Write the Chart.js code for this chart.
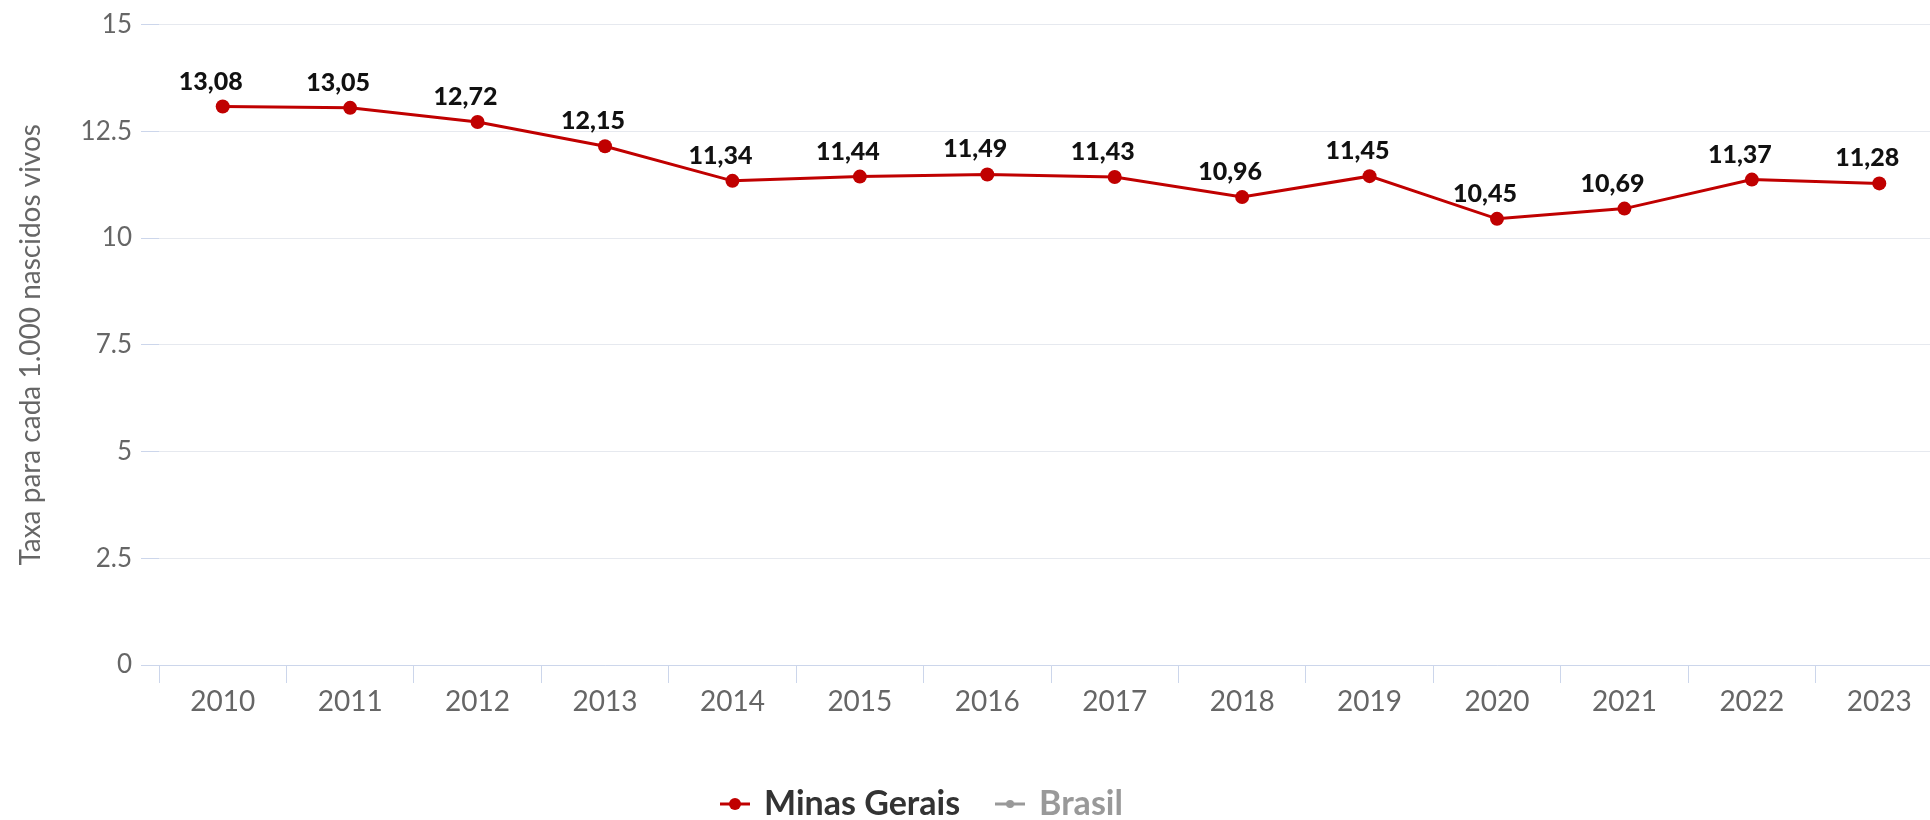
<!DOCTYPE html>
<html>
<head>
<meta charset="utf-8">
<script src="https://cdn.jsdelivr.net/npm/chart.js@4.4.1/dist/chart.umd.min.js"></script>
<style>
html,body{margin:0;padding:0;overflow:hidden;background:#fff}
#wrap{width:1950px;height:820px;position:relative}
canvas{display:block}
</style>
</head>
<body>
<div id="wrap"><canvas id="c" width="1950" height="820"></canvas></div>
<script>
// ---- data ----
const categories = ['2010','2011','2012','2013','2014','2015','2016','2017','2018','2019','2020','2021','2022','2023'];
const minasGerais = [13.08,13.05,12.72,12.15,11.34,11.44,11.49,11.43,10.96,11.45,10.45,10.69,11.37,11.28];
const brasil = []; // series hidden in the reference
const seriesNames = ['Minas Gerais','Brasil'];
const yTicks = [0,2.5,5,7.5,10,12.5,15];
const yTitle = 'Taxa para cada 1.000 nascidos vivos';

// ---- styles ----
const RED = '#c00000';
const GREY = '#999999';
const FONT = 'Lato, "Open Sans", sans-serif';

function legendSymbol(color, r) {
  const cv = document.createElement('canvas');
  cv.width = 30; cv.height = 16;
  const g = cv.getContext('2d');
  g.strokeStyle = color; g.lineWidth = 3;
  g.beginPath(); g.moveTo(0, 8); g.lineTo(30, 8); g.stroke();
  g.fillStyle = color;
  g.beginPath(); g.arc(15, 8, r, 0, Math.PI * 2); g.fill();
  return cv;
}
const symMG = legendSymbol(RED, 6);
const symBR = legendSymbol(GREY, 4);

const dataLabels = {
  id: 'dataLabels',
  afterDatasetsDraw(chart) {
    const meta = chart.getDatasetMeta(0);
    if (meta.hidden) return;
    const ctx = chart.ctx;
    ctx.save();
    ctx.font = '900 25px ' + FONT;
    ctx.fillStyle = '#111111';
    ctx.textAlign = 'center';
    ctx.textBaseline = 'alphabetic';
    meta.data.forEach((el, i) => {
      const v = chart.data.datasets[0].data[i];
      const txt = v.toFixed(2).replace('.', ',');
      ctx.fillText(txt, el.x - 12, el.y - 17);
    });
    ctx.restore();
  }
};

const legendShift = {
  id: 'legendShift',
  afterLayout(chart) {
    const lg = chart.legend;
    if (!lg) return;
    const pad = lg.options.labels.padding;
    const fs = lg.options.labels.font.size;
    const dx = 723 - (lg.left + pad);
    const dy = 804 - (lg.top + pad + fs / 2);
    lg.left += dx; lg.right += dx;
    lg.top += dy; lg.bottom += dy;
  }
};

new Chart(document.getElementById('c'), {
  type: 'line',
  data: {
    labels: categories,
    datasets: [
      {
        label: seriesNames[0],
        data: minasGerais,
        borderColor: RED,
        backgroundColor: RED,
        borderWidth: 3,
        pointRadius: 7,
        pointHoverRadius: 7,
        pointBackgroundColor: RED,
        pointBorderWidth: 0,
        tension: 0
      },
      {
        label: seriesNames[1],
        data: brasil,
        borderColor: GREY,
        backgroundColor: GREY,
        hidden: true
      }
    ]
  },
  options: {
    responsive: false,
    animation: false,
    layout: { padding: { top: 22, left: 0, right: 7, bottom: 0 } },
    plugins: {
      tooltip: { enabled: false },
      legend: {
        position: 'bottom',
        align: 'start',
        labels: {
          usePointStyle: true,
          pointStyleWidth: 24,
          padding: 38,
          font: { family: FONT, size: 34, weight: 'bold' },
          generateLabels(chart) {
            return [
              { text: seriesNames[0], pointStyle: symMG, fontColor: '#333333', fillStyle: RED, strokeStyle: RED, lineWidth: 0, hidden: false, datasetIndex: 0 },
              { text: seriesNames[1], pointStyle: symBR, fontColor: '#999999', fillStyle: GREY, strokeStyle: GREY, lineWidth: 0, hidden: false, datasetIndex: 1 }
            ];
          }
        }
      }
    },
    scales: {
      x: {
        type: 'category',
        offset: true,
        grid: {
          display: true,
          drawOnChartArea: false,
          drawTicks: true,
          tickLength: 18,
          tickColor: '#ccd6eb',
          offset: true
        },
        border: { display: true, color: '#ccd6eb', width: 1 },
        ticks: {
          autoSkip: false,
          maxRotation: 0,
          padding: 2,
          color: '#666666',
          font: { family: FONT, size: 28 }
        },
        afterFit(scale) {
          const lh = scale.chart.legend ? scale.chart.legend.height : 0;
          scale.height = 820 - 665 - lh;
        }
      },
      y: {
        min: 0,
        max: 15,
        afterBuildTicks(scale) {
          scale.ticks = yTicks.map(v => ({ value: v }));
        },
        grid: {
          color: '#e6e9ef',
          tickColor: '#ccd6eb',
          tickLength: 18,
          lineWidth: 1
        },
        border: { display: false },
        ticks: {
          padding: 9,
          color: '#666666',
          font: { family: FONT, size: 26 },
          callback: v => String(v)
        },
        title: {
          display: true,
          text: yTitle,
          color: '#666666',
          font: { family: FONT, size: 28 },
          padding: { top: 14, bottom: 0 }
        },
        afterFit(scale) { scale.width = 159; }
      }
    }
  },
  plugins: [dataLabels, legendShift]
});
</script>
</body>
</html>
